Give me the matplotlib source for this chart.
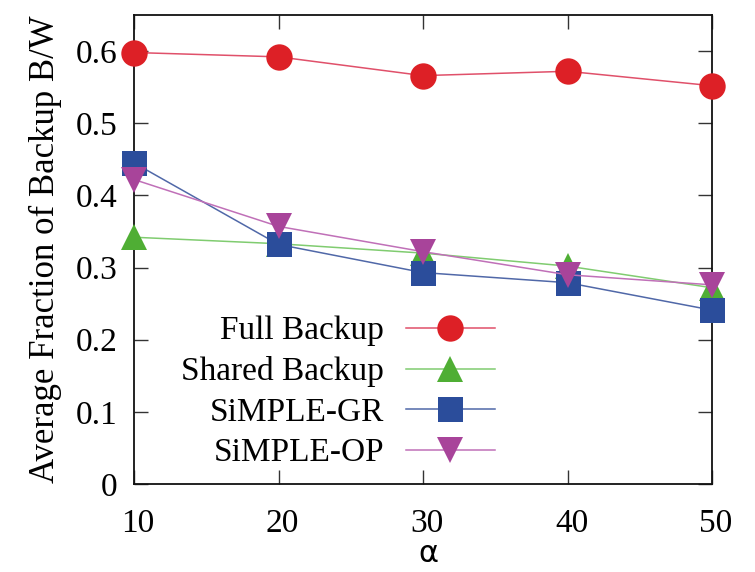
import matplotlib
matplotlib.use("Agg")
import matplotlib.pyplot as plt
from matplotlib.transforms import ScaledTranslation

x = [10, 20, 30, 40, 50]
full_backup = [0.598, 0.592, 0.566, 0.572, 0.552]
shared_backup = [0.342, 0.333, 0.320, 0.302, 0.272]
simple_gr = [0.445, 0.332, 0.293, 0.279, 0.241]
simple_op = [0.422, 0.357, 0.322, 0.290, 0.276]
labels = ["Full Backup", "Shared Backup", "SiMPLE-GR", "SiMPLE-OP"]
xticks = [10, 20, 30, 40, 50]
yticks = [0, 0.1, 0.2, 0.3, 0.4, 0.5, 0.6]

plt.rcParams['font.family'] = ['Liberation Serif', 'DejaVu Serif']

fig = plt.figure(figsize=(7.55, 5.72), dpi=100)
ax = fig.add_axes([134/755, 1-484/572, (712-134)/755, (484-15)/572])

series = [
    (full_backup, 'o', '#dd2026', '#e0506a', 19),
    (shared_backup, '^', '#4fae34', '#80cc70', 19),
    (simple_gr, 's', '#2b4d9b', '#5068a8', 18),
    (simple_op, 'v', '#a8449a', '#c070b8', 19),
]
for (vals, mk, mc, lc, ms), lab in zip(series, labels):
    ax.plot(x, vals, color=lc, lw=1.1, marker=mk, markersize=ms,
            markerfacecolor=mc, markeredgecolor=mc, markeredgewidth=0,
            label=lab, clip_on=False, zorder=3)

ax.set_xlim(10, 50)
ax.set_ylim(0, 0.65)
ax.set_xticks(xticks)
ax.set_xticklabels([str(v) for v in xticks])
ax.set_yticks(yticks)
ax.set_yticklabels(['0' if v == 0 else f'{v:.1f}' for v in yticks])
ax.tick_params(direction='in', length=10, width=1, top=True, right=True,
               labelsize=24, color='#333333')
ax.tick_params(axis='y', pad=12)
ax.tick_params(axis='x', pad=18)
for lbl in ax.get_xticklabels():
    lbl.set_transform(lbl.get_transform() + ScaledTranslation(4/100, 0, fig.dpi_scale_trans))
for s in ax.spines.values():
    s.set_linewidth(1.3)
    s.set_color('#111111')

ax.set_ylabel('Average Fraction of Backup B/W', fontsize=25, labelpad=10)
ax.set_xlabel('α', fontsize=22, family=['DejaVu Sans'])
ax.xaxis.set_label_coords((428-134)/(712-134), -(554-484)/(484-15))
ax.xaxis.label.set_va('center')

leg = ax.legend(loc='center', bbox_to_anchor=(338/755, 1-392/572),
                bbox_transform=fig.transFigure, frameon=False,
                markerfirst=False, fontsize=24, handlelength=2.67,
                handletextpad=0.66, labelspacing=0.3, borderpad=0,
                numpoints=1)

fig.savefig('out.png', dpi=100)
